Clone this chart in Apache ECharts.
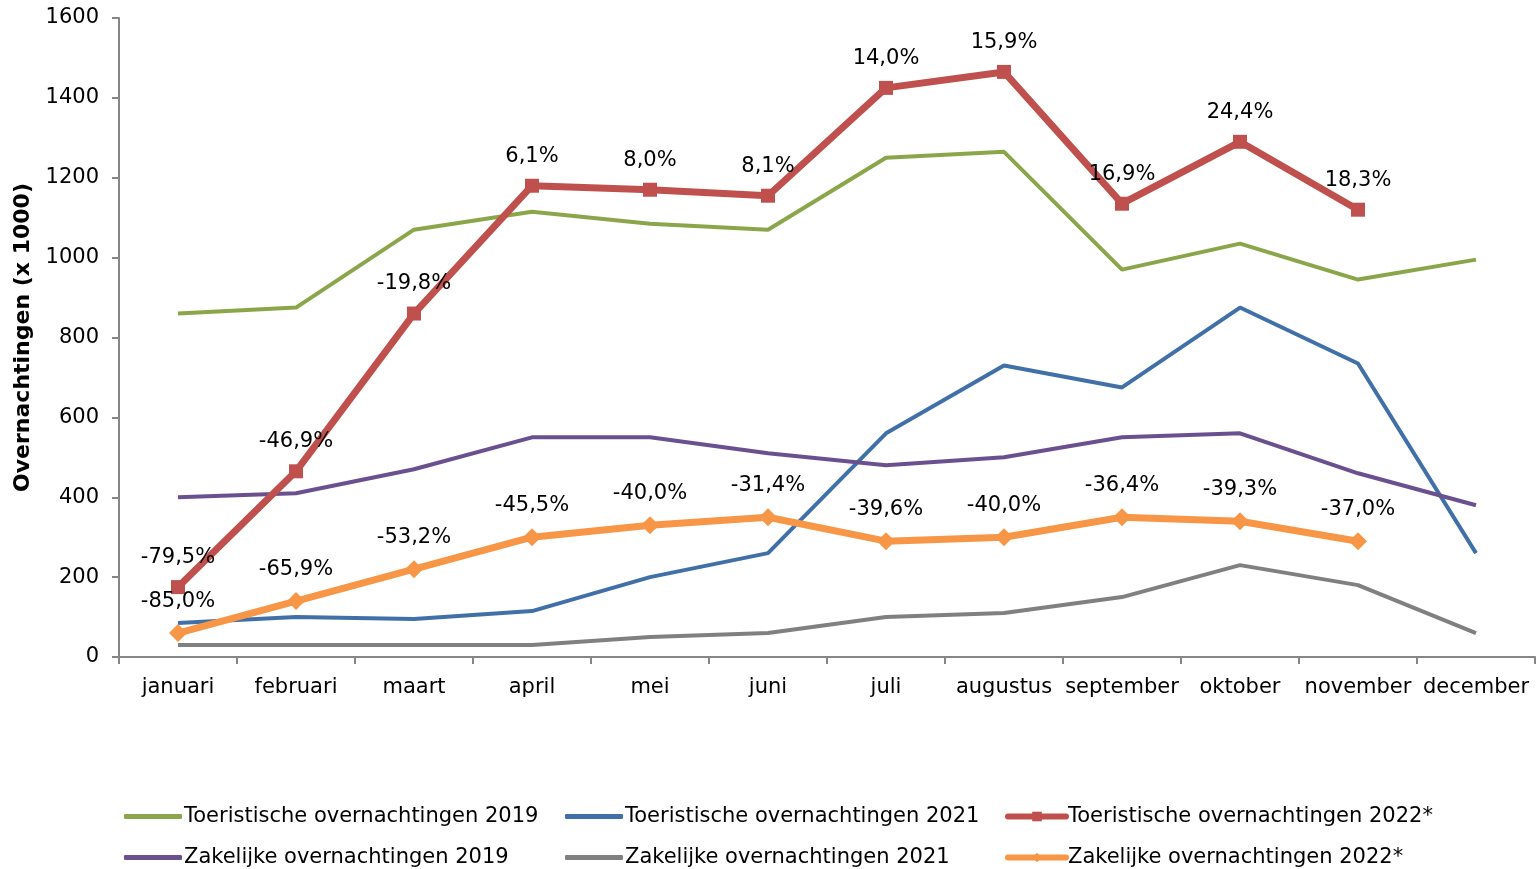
<!DOCTYPE html>
<html>
<head>
    <meta charset="utf-8" />
    <title>Overnachtingen</title>
    <script src="https://cdn.jsdelivr.net/npm/echarts@6/dist/echarts.min.js"></script>
    <style>
        html, body { margin: 0; padding: 0; background: #fff; }
    </style>
</head>
<body>
    <div id="main" style="width:1537px;height:869px"></div>
    <script type="text/javascript">

        var months = ['januari', 'februari', 'maart', 'april', 'mei', 'juni', 'juli', 'augustus', 'september', 'oktober', 'november', 'december'];

        var toer2019 = [860, 875, 1070, 1115, 1085, 1070, 1250, 1265, 970, 1035, 945, 995];
        var toer2021 = [85, 100, 95, 115, 200, 260, 560, 730, 675, 875, 735, 260];
        var toer2022 = [175, 465, 860, 1180, 1170, 1155, 1425, 1465, 1135, 1290, 1120, null];
        var zak2019 = [400, 410, 470, 550, 550, 510, 480, 500, 550, 560, 460, 380];
        var zak2021 = [30, 30, 30, 30, 50, 60, 100, 110, 150, 230, 180, 60];
        var zak2022 = [60, 140, 220, 300, 330, 350, 290, 300, 350, 340, 290, null];

        var toer2022Pct = ['-79,5%', '-46,9%', '-19,8%', '6,1%', '8,0%', '8,1%', '14,0%', '15,9%', '16,9%', '24,4%', '18,3%', ''];
        var zak2022Pct = ['-85,0%', '-65,9%', '-53,2%', '-45,5%', '-40,0%', '-31,4%', '-39,6%', '-40,0%', '-36,4%', '-39,3%', '-37,0%', ''];

        var names = [
            'Toeristische overnachtingen 2019',
            'Toeristische overnachtingen 2021',
            'Toeristische overnachtingen 2022*',
            'Zakelijke overnachtingen 2019',
            'Zakelijke overnachtingen 2021',
            'Zakelijke overnachtingen 2022*'
        ];

        var font = 'DejaVu Sans';
        var chart = echarts.init(document.getElementById('main'));

        function plainLine(name, data, color) {
            return {
                name: name,
                type: 'line',
                data: data,
                symbol: 'none',
                lineStyle: { color: color, width: 4 },
                itemStyle: { color: color },
                z: 2
            };
        }

        function markedLine(name, data, color, symbol, size, pct) {
            return {
                name: name,
                type: 'line',
                data: data,
                symbol: symbol,
                symbolSize: size,
                showAllSymbol: true,
                lineStyle: { color: color, width: 7 },
                itemStyle: { color: color },
                label: {
                    show: true,
                    position: 'top',
                    distance: 12,
                    color: '#000',
                    fontFamily: font,
                    fontSize: 21,
                    formatter: function (p) { return pct[p.dataIndex]; }
                },
                z: 3
            };
        }

        // plain columns: thick rounded bar as icon; marked column: line + small marker
        function legendCol(left, items, plain) {
            var lg = {
                orient: 'vertical',
                left: left,
                top: 806,
                height: 120,
                padding: 0,
                itemWidth: 58,
                itemHeight: plain ? 5 : 12,
                itemGap: 20,
                data: items,
                textStyle: { fontFamily: font, fontSize: 21, color: '#000', padding: [0, 0, 0, -3] }
            };
            if (plain) {
                lg.icon = 'roundRect';
            } else {
                lg.lineStyle = { width: 6, cap: 'round' };
            }
            return lg;
        }

        var option = {
            animation: false,
            grid: { left: 119, right: 2, top: 18, bottom: 212 },
            legend: [
                legendCol(124, [names[0], names[3]], true),
                legendCol(565, [names[1], names[4]], true),
                legendCol(1005, [names[2], names[5]], false)
            ],
            xAxis: {
                type: 'category',
                data: months,
                boundaryGap: true,
                axisLine: { lineStyle: { color: '#868686', width: 2 } },
                axisTick: { show: true, length: 7, lineStyle: { color: '#868686', width: 2 } },
                axisLabel: { color: '#000', fontFamily: font, fontSize: 21, margin: 20, interval: 0 }
            },
            yAxis: {
                type: 'value',
                min: 0,
                max: 1600,
                interval: 200,
                name: 'Overnachtingen (x 1000)',
                nameLocation: 'middle',
                nameRotate: 90,
                nameGap: 77,
                nameTextStyle: { color: '#000', fontFamily: font, fontSize: 22, fontWeight: 'bold' },
                axisLine: { show: true, lineStyle: { color: '#868686', width: 2 } },
                axisTick: { show: true, length: 7, lineStyle: { color: '#868686', width: 2 } },
                axisLabel: {
                    color: '#000', fontFamily: font, fontSize: 21, margin: 20,
                    formatter: function (v) { return String(v); }
                },
                splitLine: { show: false }
            },
            series: [
                plainLine(names[0], toer2019, '#8BA64A'),
                plainLine(names[1], toer2021, '#4170A8'),
                markedLine(names[2], toer2022, '#C0504D', 'rect', 14, toer2022Pct),
                plainLine(names[3], zak2019, '#6B5090'),
                plainLine(names[4], zak2021, '#808080'),
                markedLine(names[5], zak2022, '#F79646', 'diamond', 18, zak2022Pct)
            ]
        };

        chart.setOption(option);

    </script>
</body>
</html>
